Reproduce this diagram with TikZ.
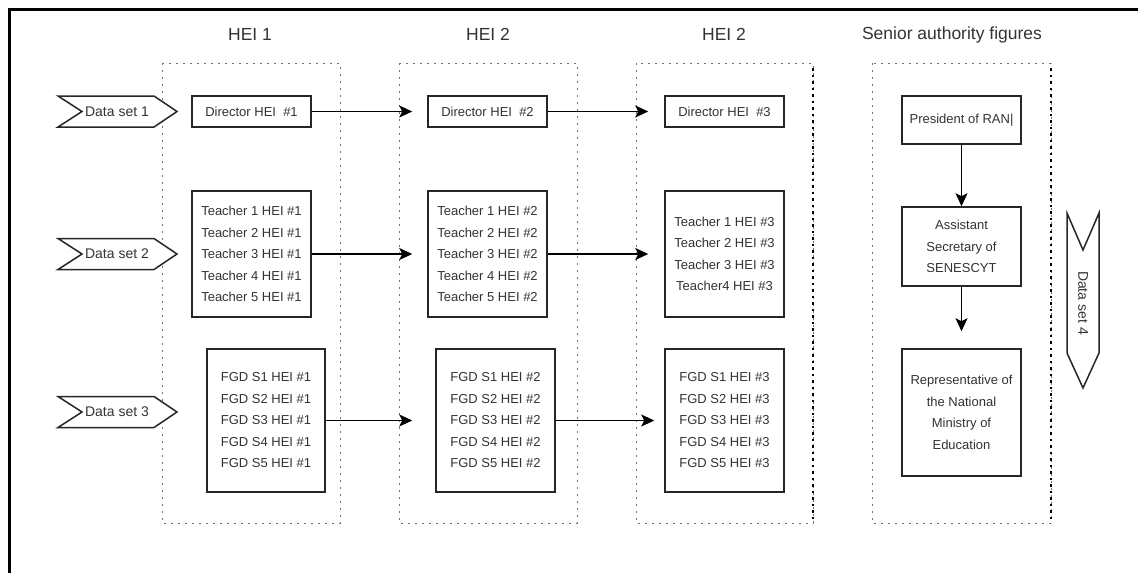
\documentclass[tikz,border=0pt]{standalone}
\usepackage{fontspec}
\setmainfont{Liberation Sans}
\usetikzlibrary{arrows.meta}
\begin{document}
\begin{tikzpicture}[x=1pt,y=-1pt,
  box/.style={draw=black!85, line width=1.5pt, fill=white, inner sep=0pt, text=black!80,
    font=\fontsize{13}{21.5}\selectfont, align=center},
  cont/.style={draw=black!55, line width=1pt, dash pattern=on 2pt off 5pt},
  contdark/.style={draw=black, line width=1.6pt, dash pattern=on 2.5pt off 4pt},
  hdr/.style={text=black!80, font=\fontsize{17.5}{21}\selectfont, inner sep=0pt},
  chev/.style={draw=black!85, line width=1.5pt, fill=white},
  chevtxt/.style={text=black!80, font=\fontsize{14}{16}\selectfont, inner sep=0pt},
  arr/.style={draw=black, line width=1.5pt, -{Stealth[length=13pt,width=12pt,inset=3pt]}},
  frame/.style={draw=black, line width=2.6pt}
]
\useasboundingbox (0,0) rectangle (1138,573);
% frame
\draw[frame] (9.3,573) -- (9.3,9.7) -- (1138,9.7);

% headers
\node[hdr] (h1) at (250,34) {HEI 1};
\node[hdr] (h2) at (488,34) {HEI 2};
\node[hdr] (h3) at (724,34) {HEI 2};
\node[hdr] (h4) at (952,35) {Senior authority figures};

% containers
\draw[cont] (162,63) rectangle (340,523);
\draw[cont] (399,63) rectangle (577,523);
\draw[cont] (636,63) rectangle (813,523);
\draw[cont] (872,63) rectangle (1051,523);
\draw[contdark] (813,68) -- (813,523);
\draw[contdark] (1051,68) -- (1051,523);

% data set chevrons
\foreach \cy in {111.5,254,412}{
  \draw[chev] (58,\cy-15.5) -- (154,\cy-15.5) -- (177,\cy) -- (154,\cy+15.5) -- (58,\cy+15.5) -- (82,\cy) -- cycle;
}
\node[chevtxt] (ds1) at (117,111.5) {Data set 1};
\node[chevtxt] (ds2) at (117,254) {Data set 2};
\node[chevtxt] (ds3) at (117,412) {Data set 3};

% vertical chevron
\draw[chev] (1067,213) -- (1083,250) -- (1099,213) -- (1099,353) -- (1083,388) -- (1067,353) -- cycle;
\node[chevtxt, rotate=-90] (ds4) at (1083,303) {Data set 4};

% director row
\node[box, minimum width=119pt, minimum height=31pt] (d1) at (251.5,111.5) {Director HEI~ \#1};
\node[box, minimum width=119pt, minimum height=31pt] (d2) at (487.5,111.5) {Director HEI~ \#2};
\node[box, minimum width=119pt, minimum height=31pt] (d3) at (724.5,111.5) {Director HEI~ \#3};

% teacher row
\node[box, minimum width=119pt, minimum height=126pt] (t1) at (251.5,254)
  {Teacher 1 HEI \#1\\Teacher 2 HEI \#1\\Teacher 3 HEI \#1\\Teacher 4 HEI \#1\\Teacher 5 HEI \#1};
\node[box, minimum width=119pt, minimum height=126pt] (t2) at (487.5,254)
  {Teacher 1 HEI \#2\\Teacher 2 HEI \#2\\Teacher 3 HEI \#2\\Teacher 4 HEI \#2\\Teacher 5 HEI \#2};
\node[box, minimum width=119pt, minimum height=126pt] (t3) at (724.5,254)
  {Teacher 1 HEI \#3\\Teacher 2 HEI \#3\\Teacher 3 HEI \#3\\Teacher4 HEI \#3};

% FGD row
\node[box, minimum width=118pt, minimum height=143pt] (f1) at (266,420.5)
  {FGD S1 HEI \#1\\FGD S2 HEI \#1\\FGD S3 HEI \#1\\FGD S4 HEI \#1\\FGD S5 HEI \#1};
\node[box, minimum width=119pt, minimum height=143pt] (f2) at (495.5,420.5)
  {FGD S1 HEI \#2\\FGD S2 HEI \#2\\FGD S3 HEI \#2\\FGD S4 HEI \#2\\FGD S5 HEI \#2};
\node[box, minimum width=119pt, minimum height=143pt] (f3) at (724.5,420.5)
  {FGD S1 HEI \#3\\FGD S2 HEI \#3\\FGD S3 HEI \#3\\FGD S4 HEI \#3\\FGD S5 HEI \#3};

% senior authority
\node[box, minimum width=119pt, minimum height=48pt] (p) at (961.5,120) {President of RAN|};
\node[box, minimum width=119pt, minimum height=79pt] (a) at (961.5,246.5) {Assistant\\Secretary of\\SENESCYT};
\node[box, minimum width=119pt, minimum height=127pt] (r) at (961.5,412.5) {Representative of\\the National\\Ministry of\\Education};

% arrows
\draw[arr, shorten >=15pt] (d1) -- (d2);
\draw[arr, shorten >=16pt] (d2) -- (d3);
\draw[arr, shorten >=15pt] (t1) -- (t2);
\draw[arr, shorten >=16pt] (t2) -- (t3);
\draw[arr, shorten >=23pt] (f1.east) -- (f2.west);
\draw[arr, shorten >=10pt] (f2.east) -- (f3.west);
\draw[arr] (p) -- (a);
\draw[arr, shorten >=17pt] (a) -- (r);
\end{tikzpicture}
\end{document}
